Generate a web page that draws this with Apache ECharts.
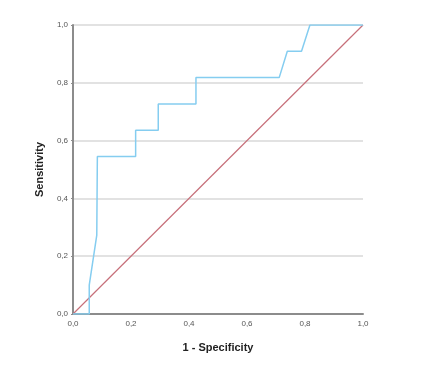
<!DOCTYPE html>
<html>
<head>
<meta charset="utf-8">
<script src="https://cdn.jsdelivr.net/npm/echarts@6/dist/echarts.min.js"></script>
<style>
  html, body { margin: 0; padding: 0; background: #fff; }
  #roc { width: 432px; height: 369px; }
</style>
</head>
<body>
<div id="roc"></div>
<script>
// ROC curve points (1 - specificity, sensitivity)
var fpr = [0, 0.056, 0.056, 0.082, 0.084, 0.216, 0.216, 0.294, 0.294, 0.424, 0.424, 0.711, 0.739, 0.788, 0.817, 1.0];
var tpr = [0, 0, 0.10, 0.273, 0.545, 0.545, 0.636, 0.636, 0.727, 0.727, 0.818, 0.818, 0.909, 0.909, 1.0, 1.0];
var refX = [0, 1];
var refY = [0, 1];

var myChart = echarts.init(document.getElementById('roc'));

function fmt(v) {
    return v.toFixed(1).replace('.', ',');
}

var rocData = fpr.map(function (x, i) { return [x, tpr[i]]; });
var refData = refX.map(function (x, i) { return [x, refY[i]]; });

var option = {
    animation: false,
    grid: { left: 73, right: 69, top: 25, bottom: 55 },
    xAxis: {
        type: 'value',
        min: 0, max: 1, interval: 0.2,
        name: '1 - Specificity',
        nameLocation: 'middle',
        nameGap: 28,
        nameTextStyle: { fontFamily: 'Liberation Sans', fontWeight: 'bold', fontSize: 11, color: '#222' },
        axisLine: { lineStyle: { color: '#8c8c8c', width: 2 } },
        axisTick: { show: false },
        axisLabel: { formatter: fmt, fontFamily: 'Liberation Sans', fontSize: 8, color: '#555', margin: 6 },
        splitLine: { show: false }
    },
    yAxis: {
        type: 'value',
        min: 0, max: 1, interval: 0.2,
        name: 'Sensitivity',
        nameLocation: 'middle',
        nameGap: 28,
        nameTextStyle: { fontFamily: 'Liberation Sans', fontWeight: 'bold', fontSize: 11, color: '#222' },
        axisLine: { show: true, lineStyle: { color: '#8c8c8c', width: 2 } },
        axisTick: { show: true, length: 2, lineStyle: { color: '#8c8c8c' } },
        axisLabel: { formatter: fmt, fontFamily: 'Liberation Sans', fontSize: 8, color: '#555', margin: 5 },
        splitLine: { show: true, lineStyle: { color: '#d9d9d9', width: 1.5 } }
    },
    series: [
        {
            type: 'line',
            data: refData,
            showSymbol: false,
            lineStyle: { color: '#c7707a', width: 1.2 },
            z: 2
        },
        {
            type: 'line',
            data: rocData,
            showSymbol: false,
            lineStyle: { color: '#85cdf0', width: 1.5 },
            z: 3
        }
    ]
};

myChart.setOption(option);
</script>
</body>
</html>
